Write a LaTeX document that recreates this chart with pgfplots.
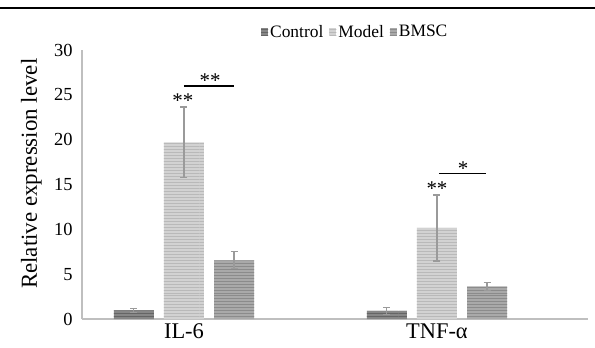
\documentclass[border=0pt]{standalone}
\usepackage{pgfplots}
\pgfplotsset{compat=1.18}
\usetikzlibrary{patterns}
\usepackage{fontspec}
\setmainfont{Liberation Serif}
\definecolor{cctrl}{HTML}{878787}
\definecolor{cmodel}{HTML}{D2D2D2}
\definecolor{cbmsc}{HTML}{A9A9A9}
\definecolor{caxis}{HTML}{BFBFBF}
\definecolor{cerr}{HTML}{9A9A9A}
\begin{document}
\begin{tikzpicture}[x=1bp,y=1bp]
\useasboundingbox (0,0) rectangle (595,347);
\begin{axis}[
  scale only axis,
  width=506bp, height=269bp,
  at={(82bp,28bp)}, anchor=south west,
  xmin=-0.403, xmax=1.597,
  ymin=0, ymax=30,
  axis x line*=bottom, axis y line*=left,
  axis line style={-, caxis, line width=1.6bp},
  xtick={0,1}, xticklabels={IL-6,TNF-α},
  ytick={0,5,...,30},
  major tick length=0pt,
  tick style={draw=none},
  /pgf/number format/assume math mode=true,
  yticklabel style={font=\fontsize{18.5}{18.5}\selectfont, xshift=-6bp},
  xticklabel style={font=\fontsize{22.5}{22.5}\selectfont, yshift=-1bp},
  ylabel={Relative expression level},
  ylabel style={font=\fontsize{23}{23}\selectfont, at={(axis description cs:-0.100,0.54)}, anchor=center},
  legend columns=3,
  legend style={draw=none, fill=none, at={(axis description cs:0.54,1.067)}, anchor=center,
    font=\fontsize{17.5}{17.5}\selectfont, /tikz/every even column/.append style={column sep=4bp},
    /tikz/every odd column/.append style={column sep=0bp}},
  legend image code/.code={\fill[#1,draw=none] (0bp,-3.5bp) rectangle (7bp,3.5bp);},
  legend cell align=left,
  clip=false,
]
\addplot[ybar, bar width=0.158, bar shift=0, fill=cctrl, draw=none,
  postaction={pattern=horizontal lines, pattern color=cctrl!75!black},
  error bars/.cd, y dir=both, y explicit,
  error bar style={cerr, line width=1.2bp},
  error mark options={rotate=90, mark size=3.5bp, cerr, line width=1.2bp}]
  coordinates {(-0.198,0.95) +- (0,0.25) (0.802,0.9) +- (0,0.4)};
\addlegendentry{Control}
\addplot[ybar, bar width=0.158, bar shift=0, fill=cmodel, draw=none,
  postaction={pattern=horizontal lines, pattern color=cmodel!88!black},
  error bars/.cd, y dir=both, y explicit,
  error bar style={cerr, line width=1.2bp},
  error mark options={rotate=90, mark size=3.5bp, cerr, line width=1.2bp}]
  coordinates {(0,19.7) +- (0,3.95) (1,10.15) +- (0,3.68)};
\addlegendentry{Model}
\addplot[ybar, bar width=0.158, bar shift=0, fill=cbmsc, draw=none,
  postaction={pattern=horizontal lines, pattern color=cbmsc!82!black},
  error bars/.cd, y dir=both, y explicit,
  error bar style={cerr, line width=1.2bp},
  error mark options={rotate=90, mark size=3.5bp, cerr, line width=1.2bp}]
  coordinates {(0.198,6.55) +- (0,0.95) (1.198,3.65) +- (0,0.45)};
\addlegendentry{BMSC}
% significance brackets
\addplot[sharp plot, black, line width=1.3bp, forget plot] coordinates {(0,26.0) (0.198,26.0)};
\addplot[sharp plot, black, line width=1.3bp, forget plot] coordinates {(1.008,16.2) (1.194,16.2)};
\node[font=\fontsize{21}{21}\selectfont] at (axis cs:-0.004,24.4) {**};
\node[font=\fontsize{21}{21}\selectfont] at (axis cs:0.103,26.6) {**};
\node[font=\fontsize{21}{21}\selectfont] at (axis cs:1.0,14.5) {**};
\node[font=\fontsize{21}{21}\selectfont] at (axis cs:1.103,16.8) {*};
\end{axis}
\draw[black, line width=1.5bp] (0,339) -- (595,339);
\end{tikzpicture}
\end{document}
